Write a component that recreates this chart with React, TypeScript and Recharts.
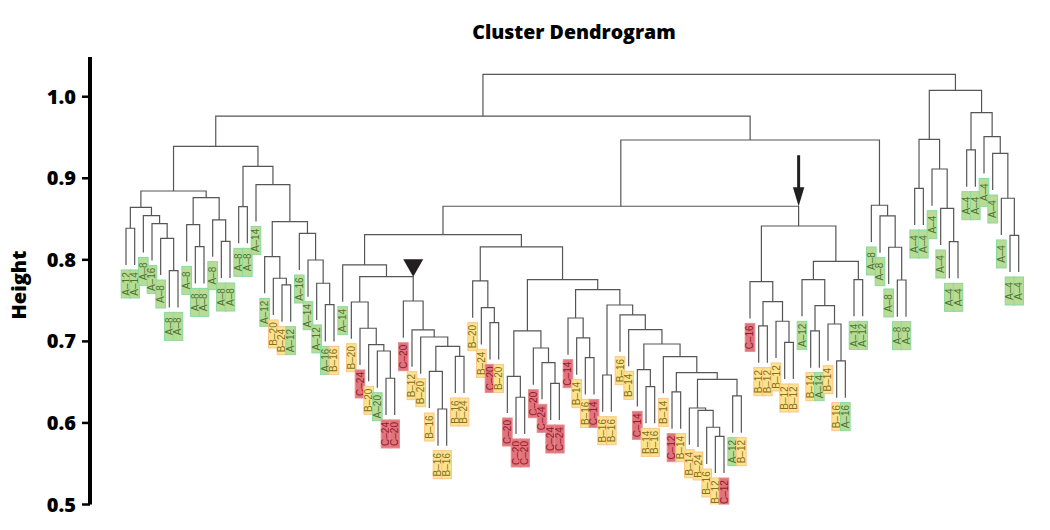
import { ScatterChart, Scatter, XAxis, YAxis } from 'recharts';

// leaf labels, left to right
const leafLabels = [
  'A–12', 'A–14', 'A–8', 'A–16', 'A–8', 'A–8', 'A–8', 'A–8', 'A–8', 'A–8', 'A–8', 'A–8', 'A–8',
  'A–8', 'A–8', 'A–14', 'A–12', 'B–20', 'B–24', 'A–12', 'A–16', 'A–14', 'A–12', 'A–16', 'B–16', 'A–14',
  'B–20', 'C–24', 'B–20', 'A–20', 'C–24', 'C–20', 'C–20', 'B–12', 'B–20', 'B–16', 'B–16', 'B–16', 'B–16', 'B–24',
  'B–20', 'B–24', 'C–20', 'B–20', 'C–20', 'C–20', 'C–20', 'C–20', 'C–24', 'C–24', 'C–24',
  'C–14', 'B–14', 'B–16', 'C–14', 'B–16', 'B–16', 'B–16', 'B–14', 'C–14', 'B–14', 'B–16', 'B–14',
  'C–12', 'B–14', 'B–14', 'B–24', 'B–16', 'B–12', 'C–12', 'A–12', 'B–12',
  'C–16', 'B–12', 'B–12', 'B–12', 'B–12', 'B–12', 'A–12', 'B–14', 'A–14', 'B–14', 'B–16', 'A–16', 'A–14', 'A–12',
  'A–8', 'A–8', 'A–8', 'A–8', 'A–8',
  'A–4', 'A–4', 'A–4', 'A–4', 'A–4', 'A–4', 'A–4', 'A–4', 'A–4', 'A–4', 'A–4', 'A–4', 'A–4',
];

// merges: id, left child, right child, height. A number is a leaf index, a string another merge.
type Merge = [string, number | string, number | string, number];

const leftMerges: Merge[] = [
  ['a1', 0, 1, 0.8387], ['a2', 5, 6, 0.7867], ['a3', 4, 'a2', 0.8264], ['a4', 3, 'a3', 0.8443],
  ['a5', 2, 'a4', 0.8541], ['a6', 'a1', 'a5', 0.8644], ['a7', 8, 9, 0.8161], ['a8', 7, 'a7', 0.8431],
  ['a9', 11, 12, 0.8227], ['a10', 10, 'a9', 0.8489], ['a11', 'a8', 'a10', 0.8762], ['a12', 'a6', 'a11', 0.8844],
  ['b1', 13, 14, 0.8652], ['b2', 18, 19, 0.7692], ['b3', 17, 'b2', 0.7774], ['b4', 16, 'b3', 0.8039],
  ['b5', 23, 24, 0.745], ['b6', 22, 'b5', 0.7713], ['b7', 21, 'b6', 0.7998], ['b8', 20, 'b7', 0.8325],
  ['b9', 'b4', 'b8', 0.8468], ['b10', 15, 'b9', 0.8921], ['b11', 'b1', 'b10', 0.9147], ['c1', 'a12', 'b11', 0.9392],
];

const middleMerges: Merge[] = [
  ['d1', 30, 31, 0.6548], ['d2', 29, 'd1', 0.6882], ['d3', 28, 'd2', 0.696], ['d4', 27, 'd3', 0.7161],
  ['d5', 26, 'd4', 0.7483], ['d6', 36, 37, 0.6171], ['d7', 35, 'd6', 0.6633], ['d8', 38, 39, 0.6817],
  ['d9', 'd7', 'd8', 0.694], ['d10', 34, 'd9', 0.7054], ['d11', 33, 'd10', 0.714], ['d12', 32, 'd11', 0.7495],
  ['d13', 'd5', 'd12', 0.7793], ['d14', 25, 'd13', 0.7937],
  ['e1', 42, 43, 0.7229], ['e2', 41, 'e1', 0.7413], ['e3', 40, 'e2', 0.7741], ['e4', 45, 46, 0.6315],
  ['e5', 44, 'e4', 0.6572], ['e6', 49, 50, 0.6486], ['e7', 48, 'e6', 0.6739], ['e8', 47, 'e7', 0.6919],
  ['e9', 'e5', 'e8', 0.7128], ['e10', 53, 54, 0.68], ['e11', 52, 'e10', 0.7042], ['e12', 51, 'e11', 0.7287],
  ['f1', 55, 56, 0.6588], ['f2', 68, 69, 0.5836], ['f3', 67, 'f2', 0.5947], ['f4', 66, 'f3', 0.6155],
  ['f5', 65, 'f4', 0.6183], ['f6', 70, 71, 0.6331], ['f7', 'f5', 'f6', 0.6535], ['f8', 63, 64, 0.638],
  ['f9', 'f8', 'f7', 0.6616], ['f10', 62, 'f9', 0.6813], ['f11', 60, 61, 0.6445], ['f12', 59, 'f11', 0.6653],
  ['f13', 'f12', 'f10', 0.6968], ['f14', 58, 'f13', 0.7144], ['f15', 57, 'f14', 0.7324], ['f16', 'f1', 'f15', 0.7446],
  ['f17', 'e12', 'f16', 0.7634], ['f18', 'e9', 'f17', 0.7757], ['f19', 'e3', 'f18', 0.8158], ['g1', 'd14', 'f19', 0.8308],
  ['h1', 73, 74, 0.7189], ['h2', 76, 77, 0.6989], ['h3', 75, 'h2', 0.7247], ['h4', 'h1', 'h3', 0.7487],
  ['h5', 72, 'h4', 0.7732], ['h6', 79, 80, 0.7128], ['h7', 82, 83, 0.676], ['h8', 81, 'h7', 0.7213],
  ['h9', 'h6', 'h8', 0.7438], ['h10', 78, 'h9', 0.7757], ['h11', 84, 85, 0.7757], ['h12', 'h10', 'h11', 0.7982],
  ['h13', 'h5', 'h12', 0.8415], ['g2', 'g1', 'h13', 0.8657],
  ['i1', 89, 90, 0.7753], ['i2', 88, 'i1', 0.8154], ['i3', 87, 'i2', 0.8538], ['i4', 86, 'i3', 0.8669],
  ['i5', 'g2', 'i4', 0.9469], ['c2', 'c1', 'i5', 0.9763],
];

const rightMerges: Merge[] = [
  ['j1', 91, 92, 0.8877], ['j2', 95, 96, 0.8223], ['j3', 94, 'j2', 0.8632], ['j4', 93, 'j3', 0.9114],
  ['j5', 'j1', 'j4', 0.9478], ['k1', 97, 98, 0.9347], ['k2', 102, 103, 0.8301], ['k3', 101, 'k2', 0.8755],
  ['k4', 100, 'k3', 0.9306], ['k5', 99, 'k4', 0.951], ['k6', 'k1', 'k5', 0.9804], ['j6', 'j5', 'k6', 1.0078],
  ['root', 'c2', 'j6', 1.0275],
];

const heightTicks = [0.5, 0.6, 0.7, 0.8, 0.9, 1.0];
const hang = 0.045; // leaves hang this far below their merge

const merges = [...leftMerges, ...middleMerges, ...rightMerges];
const byId = new Map(merges.map((m) => [m[0], m]));

const xOf = (ref: number | string): number => {
  if (typeof ref === 'number') return ref;
  const m = byId.get(ref)!;
  return (xOf(m[1]) + xOf(m[2])) / 2;
};

// child end of a link: merge height, or the hanging tip for a leaf
const yOf = (ref: number | string, parent: number) =>
  typeof ref === 'number' ? parent - hang : byId.get(ref)![3];

const links = merges.map(([id, l, r, h]) => ({
  id,
  points: [
    { x: xOf(l), y: yOf(l, h) },
    { x: xOf(l), y: h },
    { x: xOf(r), y: h },
    { x: xOf(r), y: yOf(r, h) },
  ],
}));

const leaves: { x: number; y: number; label: string }[] = [];
merges.forEach(([, l, r, h]) => {
  [l, r].forEach((c) => {
    if (typeof c === 'number') leaves.push({ x: c, y: h - hang, label: leafLabels[c] });
  });
});
leaves.sort((a, b) => a.x - b.x);

// the two marked branches
const trianglePoint = [{ x: xOf('d12'), y: byId.get('d13')![3] }];
const arrowPoint = [{ x: xOf('h13'), y: byId.get('g2')![3] }];

const leafStyle: Record<string, { fill: string; border: string; text: string }> = {
  A: { fill: '#b9dc95', border: '#88d9a2', text: '#4a7433' },
  B: { fill: '#fde38d', border: '#fdc588', text: '#82701c' },
  C: { fill: '#e2727b', border: '#e38e90', text: '#8e1b2b' },
};

const NoDot = () => <g />;

const LeafBox = ({ cx, cy, payload }: any) => {
  const s = leafStyle[payload.label[0]];
  const top = cy + 5;
  return (
    <g>
      <rect x={cx - 4.8} y={top} width={9.6} height={28} fill={s.fill} stroke={s.border} strokeWidth={1} />
      <text
        x={cx}
        y={top + 14}
        transform={`rotate(-90 ${cx} ${top + 14})`}
        textAnchor="middle"
        dominantBaseline="central"
        fontFamily="Liberation Sans"
        fontSize={10}
        fill={s.text}
      >
        {payload.label}
      </text>
    </g>
  );
};

const Triangle = ({ cx, cy }: any) => (
  <path d={`M${cx} ${cy}L${cx - 10} ${cy - 17.5}L${cx + 10} ${cy - 17.5}Z`} fill="#231f20" />
);

const Arrow = ({ cx, cy }: any) => (
  <g fill="#231f20">
    <rect x={cx - 1.5} y={cy - 51} width={3} height={35} />
    <path d={`M${cx} ${cy}L${cx - 5.7} ${cy - 19}L${cx + 5.7} ${cy - 19}Z`} />
  </g>
);

export default function App() {
  return (
    <div style={{ position: 'absolute', left: 0, top: 0, width: 1050, height: 530, background: '#fff' }}>
      <ScatterChart width={1050} height={530} margin={{ top: 57, right: 10, bottom: 25.5, left: 0 }}>
        <XAxis type="number" dataKey="x" domain={[-4.154, 105.46]} allowDataOverflow hide />
        <YAxis
          type="number"
          dataKey="y"
          domain={[0.5, 1.0487]}
          allowDataOverflow
          ticks={heightTicks}
          tickFormatter={(v: number) => v.toFixed(1)}
          width={90}
          tickSize={8}
          tickMargin={6}
          axisLine={{ stroke: '#000', strokeWidth: 4 }}
          tickLine={{ stroke: '#000', strokeWidth: 2.5 }}
          tick={{ fill: '#000', fontFamily: 'Open Sans', fontWeight: 800, fontSize: 20 }}
        />
        {links.map((link) => (
          <Scatter
            key={link.id}
            data={link.points}
            line={{ stroke: '#555', strokeWidth: 1.2 }}
            lineType="joint"
            shape={NoDot}
            isAnimationActive={false}
          />
        ))}
        <Scatter data={leaves} shape={LeafBox} isAnimationActive={false} />
        <Scatter data={trianglePoint} shape={Triangle} isAnimationActive={false} />
        <Scatter data={arrowPoint} shape={Arrow} isAnimationActive={false} />
        <text x={574} y={39} textAnchor="middle" fontFamily="Open Sans" fontWeight={800} fontSize={19.5} fill="#000">
          Cluster Dendrogram
        </text>
        <text
          x={26}
          y={285}
          transform="rotate(-90 26 285)"
          textAnchor="middle"
          fontFamily="Open Sans"
          fontWeight={800}
          fontSize={20}
          fill="#000"
        >
          Height
        </text>
      </ScatterChart>
    </div>
  );
}
